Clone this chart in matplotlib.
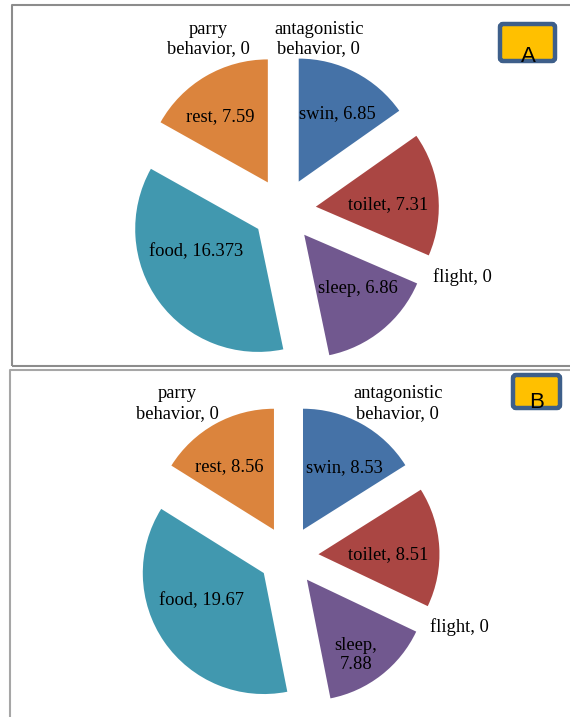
import numpy as np
import matplotlib
matplotlib.use("Agg")
import matplotlib.pyplot as plt
from matplotlib.patches import FancyBboxPatch

# Time budget per behaviour, two groups (A and B)
categories = ["swin", "toilet", "flight", "sleep", "food", "rest",
              "parry behavior", "antagonistic behavior"]
values_a = [6.85, 7.31, 0, 6.86, 16.373, 7.59, 0, 0]
values_b = [8.53, 8.51, 0, 7.88, 19.67, 8.56, 0, 0]
panel_tags = ["A", "B"]

colors = ["#4572A7", "#AA4643", "#89A54E", "#71588F",
          "#4198AF", "#DB843D", "#93A9CF", "#D19392"]

W, H = 570, 717
fig = plt.figure(figsize=(W / 100, H / 100), dpi=100)
ax = fig.add_axes([0, 0, 1, 1])

SERIF = ["Liberation Serif", "DejaVu Serif"]
SANS = ["Liberation Sans", "DejaVu Sans"]


def label_text(name, value, break_after_comma=False):
    name = name.replace(" behavior", "\nbehavior")
    sep = ",\n" if break_after_comma else ", "
    return f"{name}{sep}{value:g}"


# label placement: (radius as fraction of R, angular tweak in degrees)
label_place_a = {
    "swin": (0.90, -1.7), "toilet": (0.85, -3.1), "flight": (1.55, 2.7),
    "sleep": (0.88, 3.9), "food": (0.79, -10.8), "rest": (0.92, 3.8),
    "parry behavior": (1.52, 23.8), "antagonistic behavior": (1.42, -11.5),
}
label_place_b = {
    "swin": (0.87, -3.5), "toilet": (0.82, -2.8), "flight": (1.53, 2.9),
    "sleep": (0.99, -3.6), "food": (0.81, -7.4), "rest": (0.89, 4.5),
    "parry behavior": (1.56, 36.1), "antagonistic behavior": (1.55, -35.6),
}


def draw_pie(values, center_px, radius, explode_frac, places, wrapped=()):
    cx, cy = center_px[0], H - center_px[1]
    wedges, _ = ax.pie(values, colors=colors, startangle=90, counterclock=False,
                       explode=[explode_frac * radius] * len(values),
                       radius=radius, center=(cx, cy), frame=True,
                       wedgeprops=dict(linewidth=0))
    for w, name, v in zip(wedges, categories, values):
        mid = 0.5 * (w.theta1 + w.theta2)
        rf, dang = places[name]
        ang = np.deg2rad(mid + dang)
        x = cx + rf * radius * np.cos(ang)
        y = cy + rf * radius * np.sin(ang)
        ax.text(x, y, label_text(name, v, name in wrapped), ha="center",
                va="center", fontsize=13.3, family=SERIF, color="black",
                linespacing=1.2)


draw_pie(values_a, (284, 210), 123, 0.26, label_place_a)
draw_pie(values_b, (288.5, 556), 121, 0.248, label_place_b, wrapped=("sleep",))

# panel frames
frame_kw = dict(color="#8C8C8C", linewidth=1.5, solid_capstyle="butt")
ax.plot([12, 12, W + 5], [H - 366, H - 5, H - 5], **frame_kw)
ax.plot([12, W + 5], [H - 366, H - 366], **frame_kw)
ax.plot([10, 10, W + 5], [-5, H - 369.5, H - 369.5],
        color="#A6A6A6", linewidth=1.5, solid_capstyle="butt")

# panel tags
for tag, (x0, y0, x1, y1), (tx, ty) in zip(
        panel_tags,
        [(500, 24, 555, 61), (513, 375, 560, 408)],
        [(528, 56), (537, 403)]):
    box = FancyBboxPatch((x0, H - y1), x1 - x0, y1 - y0,
                         boxstyle="round,pad=0,rounding_size=3",
                         facecolor="#FFC000", edgecolor="#3E5F8A",
                         linewidth=3.2)
    ax.add_patch(box)
    ax.text(tx, H - ty, tag, ha="center", va="center", fontsize=16,
            family=SANS, color="black")

ax.set_xlim(0, W)
ax.set_ylim(0, H)
ax.set_aspect("auto")
ax.axis("off")

fig.savefig("out.png", dpi=100, facecolor="white")
